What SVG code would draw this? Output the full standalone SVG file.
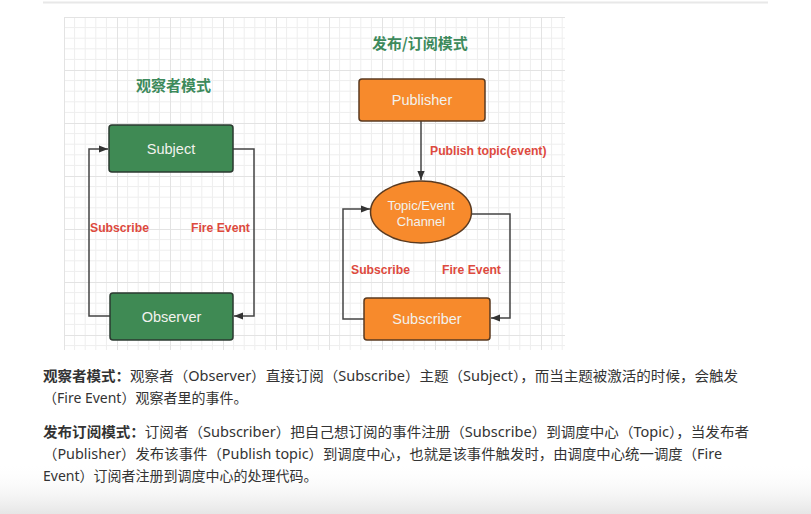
<svg xmlns="http://www.w3.org/2000/svg" width="811" height="514" viewBox="0 0 811 514">
<defs>
<pattern id="grid" x="64" y="17" width="53" height="53" patternUnits="userSpaceOnUse">
<path d="M10.6 0V53M21.2 0V53M31.8 0V53M42.4 0V53M0 10.6H53M0 21.2H53M0 31.8H53M0 42.4H53" stroke="#eeeeee" stroke-width="1" fill="none"/>
<path d="M0.5 0V53M0 0.5H53" stroke="#e3e3e3" stroke-width="1" fill="none"/>
</pattern>
<linearGradient id="fade" x1="0" y1="0" x2="0" y2="1">
<stop offset="0" stop-color="#ffffff" stop-opacity="0"/>
<stop offset="1" stop-color="#e6e6e6" stop-opacity="1"/>
</linearGradient>
<marker id="arr" viewBox="0 0 10 10" refX="10" refY="5" markerWidth="9" markerHeight="9" markerUnits="userSpaceOnUse" orient="auto">
<path d="M0 1L10 5L0 9z" fill="#333"/>
</marker>
</defs>
<style>
.green{fill:#3f8a54;stroke:#2b3a30;stroke-width:1.5}
.orange{fill:#f78a2c;stroke:#5a3a20;stroke-width:1.5}
.nt{font-family:"Liberation Sans",Arial,sans-serif;font-size:14.5px;fill:#f2f2ee;text-anchor:middle}
.lbl{font-family:"Liberation Sans",Arial,sans-serif;font-size:12.2px;font-weight:bold;fill:#dd4a3e}
.title{font-family:"Noto Sans CJK SC",sans-serif;font-size:15px;font-weight:bold;fill:#3d8a5c}
.con{fill:none;stroke:#444;stroke-width:1.5;marker-end:url(#arr)}
.p{font-family:"Noto Sans","Noto Sans CJK SC",sans-serif;font-size:14px;fill:#333}
.b{font-weight:bold}
</style>
<rect width="811" height="514" fill="#ffffff"/>
<rect x="0" y="462" width="811" height="52" fill="url(#fade)"/>
<line x1="43" y1="2.5" x2="768" y2="2.5" stroke="#e8e8e8" stroke-width="2"/>
<rect x="64" y="17" width="501" height="333" fill="url(#grid)"/>

<text class="title" x="136" y="91">观察者模式</text>
<text class="title" x="372" y="49">发布/订阅模式</text>

<g id="connectors">
<path class="con" d="M110 316H89V149H108"/>
<path class="con" d="M233 149H254V316H234"/>
<path class="con" d="M421 121V180"/>
<path class="con" d="M364 319H343V209H370"/>
<path class="con" d="M470 214H510V318H491"/>
<text class="lbl" x="90" y="232">Subscribe</text>
<text class="lbl" x="191" y="232">Fire Event</text>
<text class="lbl" x="430" y="155">Publish topic(event)</text>
<text class="lbl" x="351" y="274">Subscribe</text>
<text class="lbl" x="442" y="274">Fire Event</text>
</g>

<g id="subject">
<rect class="green" x="109" y="125" width="124" height="47" rx="3"/>
<text class="nt" x="171" y="154">Subject</text>
</g>
<g id="observer">
<rect class="green" x="110" y="293" width="123" height="47" rx="3"/>
<text class="nt" x="171.5" y="322">Observer</text>
</g>
<g id="publisher">
<rect class="orange" x="359" y="79" width="126" height="42" rx="3"/>
<text class="nt" x="422" y="105">Publisher</text>
</g>
<g id="channel">
<ellipse class="orange" cx="421" cy="212" rx="50.5" ry="31"/>
<text class="nt" x="421" y="210" style="font-size:13px">Topic/Event</text>
<text class="nt" x="421" y="226" style="font-size:13px">Channel</text>
</g>
<g id="subscriber">
<rect class="orange" x="364" y="298" width="126" height="42" rx="3"/>
<text class="nt" x="427" y="324">Subscriber</text>
</g>

<text class="p" x="43" y="381" textLength="695" lengthAdjust="spacingAndGlyphs"><tspan class="b">观察者模式：</tspan>观察者（Observer）直接订阅（Subscribe）主题（Subject），而当主题被激活的时候，会触发</text>
<text class="p" x="43" y="403">（Fire Event）观察者里的事件。</text>
<text class="p" x="43" y="437" textLength="706" lengthAdjust="spacingAndGlyphs"><tspan class="b">发布订阅模式：</tspan>订阅者（Subscriber）把自己想订阅的事件注册（Subscribe）到调度中心（Topic），当发布者</text>
<text class="p" x="43" y="459" textLength="679" lengthAdjust="spacingAndGlyphs">（Publisher）发布该事件（Publish topic）到调度中心，也就是该事件触发时，由调度中心统一调度（Fire</text>
<text class="p" x="43" y="481">Event）订阅者注册到调度中心的处理代码。</text>
</svg>
